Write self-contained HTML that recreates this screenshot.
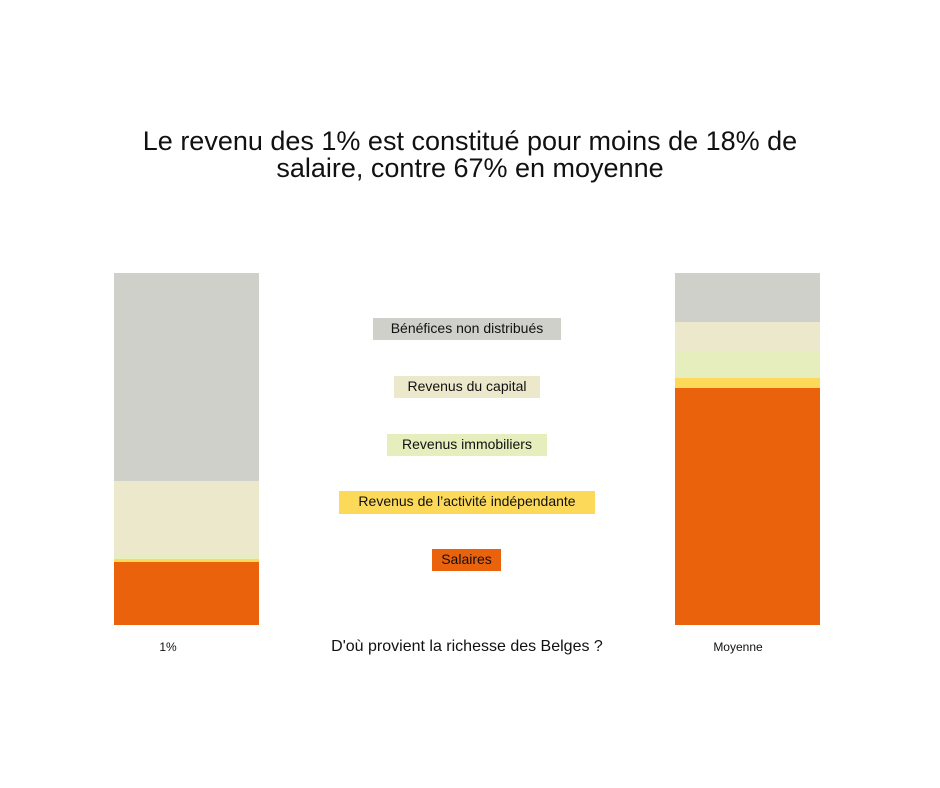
<!DOCTYPE html>
<html><head><meta charset="utf-8"><style>
body{margin:0;width:940px;height:788px;background:#fff;position:relative;font-family:"Liberation Sans",sans-serif;color:#111;overflow:hidden}
.a{position:absolute}
.t{left:0;width:940px;text-align:center;font-size:27px;line-height:27px;top:128px}
.l{position:absolute;height:22px;line-height:20px;font-size:14px;text-align:center;white-space:nowrap}
</style></head><body>
<div class="a t">Le revenu des 1% est constitué pour moins de 18% de<br>salaire, contre 67% en moyenne</div>
<div class="a" style="left:114px;top:273px;width:145px;height:208px;background:#d0d0cb"></div>
<div class="a" style="left:114px;top:481px;width:145px;height:75px;background:#ece8cc"></div>
<div class="a" style="left:114px;top:556px;width:145px;height:3px;background:#e5eebc"></div>
<div class="a" style="left:114px;top:559px;width:145px;height:3px;background:#fdd95a"></div>
<div class="a" style="left:114px;top:562px;width:145px;height:63px;background:#eb620c"></div>
<div class="a" style="left:675px;top:273px;width:145px;height:49px;background:#d0d0cb"></div>
<div class="a" style="left:675px;top:322px;width:145px;height:29px;background:#ece8cc"></div>
<div class="a" style="left:675px;top:351px;width:145px;height:27px;background:#e5eebc"></div>
<div class="a" style="left:675px;top:378px;width:145px;height:10px;background:#fdd95a"></div>
<div class="a" style="left:675px;top:388px;width:145px;height:237px;background:#eb620c"></div>
<div class="l" style="left:373px;top:318px;width:188px;background:#d0d0cb">Bénéfices non distribués</div>
<div class="l" style="left:394px;top:376px;width:146px;background:#ece8cc">Revenus du capital</div>
<div class="l" style="left:387px;top:434px;width:160px;background:#e5eebc">Revenus immobiliers</div>
<div class="l" style="left:339px;top:491px;width:256px;height:23px;background:#fdd95a">Revenus de l’activité indépendante</div>
<div class="l" style="left:432px;top:549px;width:69px;background:#eb620c">Salaires</div>
<div class="a" style="left:150px;top:640px;width:36px;text-align:center;font-size:12px">1%</div>
<div class="a" style="left:317px;top:638px;width:300px;text-align:center;font-size:16px">D'où provient la richesse des Belges ?</div>
<div class="a" style="left:698px;top:640px;width:80px;text-align:center;font-size:12px">Moyenne</div>
</body></html>
